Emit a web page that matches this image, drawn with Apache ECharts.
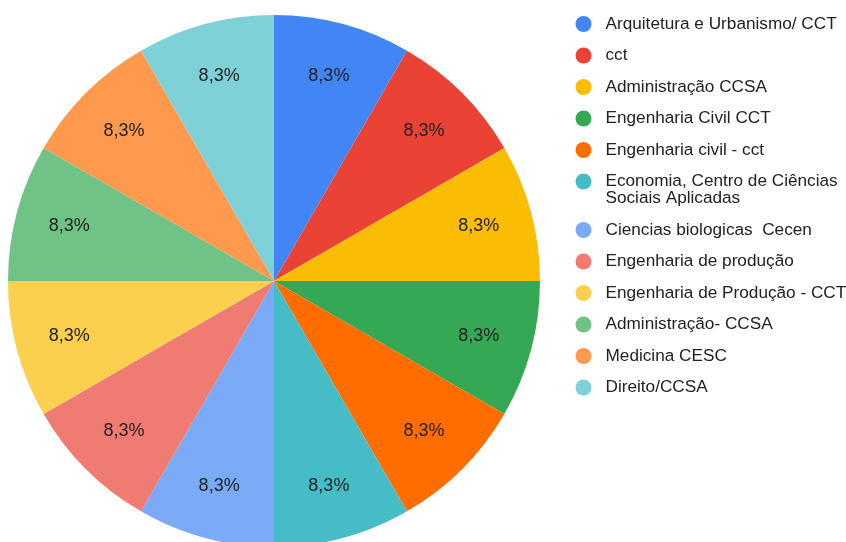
<!DOCTYPE html>
<html>
<head>
<meta charset="utf-8">
<script src="https://cdn.jsdelivr.net/npm/echarts@6/dist/echarts.min.js"></script>
<style>
  html, body { margin: 0; padding: 0; background: #fff; }
  #chart { width: 846px; height: 542px; }
</style>
</head>
<body>
<div id="chart"></div>
<script>
// Courses represented in the survey responses
const categories = [
  'Arquitetura e Urbanismo/ CCT',
  'cct',
  'Administração CCSA',
  'Engenharia Civil CCT',
  'Engenharia civil - cct',
  'Economia, Centro de Ciências Sociais Aplicadas',
  'Ciencias biologicas  Cecen',
  'Engenharia de produção',
  'Engenharia de Produção - CCT',
  'Administração- CCSA',
  'Medicina CESC',
  'Direito/CCSA'
];
// One response per course
const values = [1, 1, 1, 1, 1, 1, 1, 1, 1, 1, 1, 1];
const colors = [
  '#4285f4', '#ea4335', '#fbbc04', '#34a853', '#ff6d01', '#46bdc6',
  '#7baaf7', '#f07b72', '#fcd04f', '#71c287', '#ff994d', '#7ed1d7'
];

const FONT = '"Liberation Sans", Arial, sans-serif';
const pieData = categories.map((name, i) => ({
  name: name,
  value: values[i],
  itemStyle: { color: colors[i] }
}));
const labelData = categories.map((name, i) => ({ name: name, value: values[i] }));

// Legend is split in three blocks so that the wrapped entry keeps its
// marker aligned with the first line of text.
const wrapIdx = 5;
const legendText = { color: '#222', fontSize: 17.2, lineHeight: 17, fontFamily: FONT };
const legendBase = {
  orient: 'vertical',
  left: 575.5,
  padding: 0,
  icon: 'circle',
  itemWidth: 34,
  itemHeight: 16,
  itemGap: 14.5,
  textStyle: legendText,
  selectedMode: false
};

const chart = echarts.init(document.getElementById('chart'), null, { renderer: 'canvas' });
chart.setOption({
  backgroundColor: '#ffffff',
  animation: false,
  color: colors,
  legend: [
    Object.assign({}, legendBase, {
      top: 15.5,
      data: categories.slice(0, wrapIdx)
    }),
    Object.assign({}, legendBase, {
      top: 173,
      itemHeight: 33,
      icon: 'path://M0,8a8,8 0 1,0 16,0a8,8 0 1,0 -16,0zM8,33L8,33',
      data: [categories[wrapIdx]],
      formatter: () => 'Economia, Centro de Ciências\nSociais Aplicadas'
    }),
    Object.assign({}, legendBase, {
      top: 221.5,
      data: categories.slice(wrapIdx + 1)
    })
  ],
  series: [
    {
      type: 'pie',
      center: [274, 281],
      radius: [0, 266],
      startAngle: 90,
      clockwise: true,
      label: { show: false },
      labelLine: { show: false },
      emphasis: { disabled: true },
      data: pieData
    },
    {
      // transparent ring carrying the percentage labels
      type: 'pie',
      center: [274, 281],
      radius: [152, 266],
      startAngle: 90,
      clockwise: true,
      silent: true,
      itemStyle: { color: 'rgba(0,0,0,0)' },
      labelLine: { show: false },
      emphasis: { disabled: true },
      label: {
        show: true,
        position: 'inside',
        color: '#222',
        fontSize: 18,
        fontFamily: FONT,
        formatter: p => p.percent.toFixed(1).replace('.', ',') + '%'
      },
      data: labelData
    }
  ]
});
</script>
</body>
</html>
